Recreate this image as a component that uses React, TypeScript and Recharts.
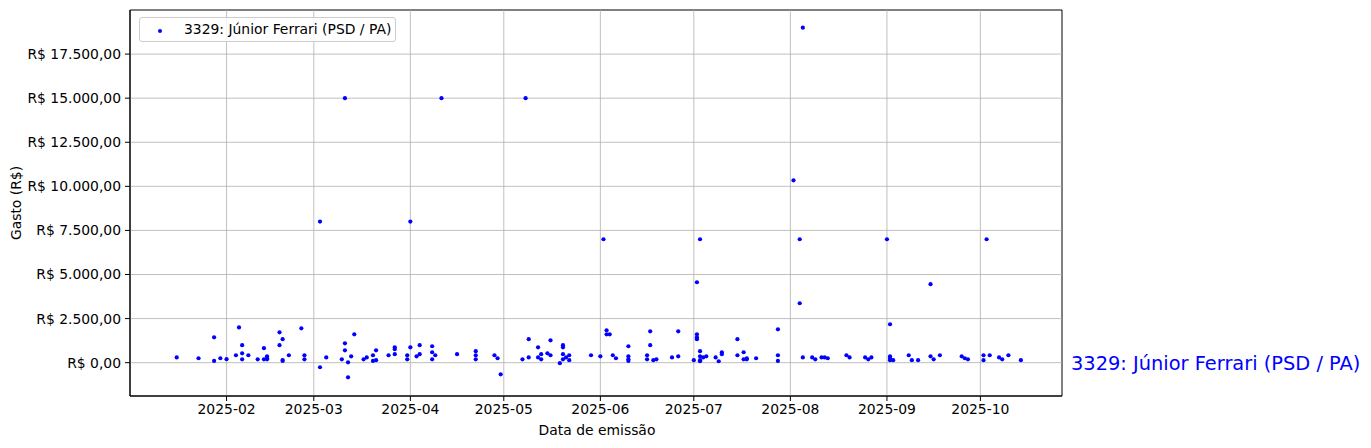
import { ScatterChart, Scatter, XAxis, YAxis, ReferenceLine, ReferenceArea } from 'recharts'

const SERIES_NAME = '3329: Júnior Ferrari (PSD / PA)'

const DATES = [
  '2025-01-16', '2025-01-23', '2025-01-28', '2025-01-28', '2025-01-30', '2025-02-01', '2025-02-04', '2025-02-05',
  '2025-02-06', '2025-02-06', '2025-02-06', '2025-02-08', '2025-02-11', '2025-02-13', '2025-02-13', '2025-02-14',
  '2025-02-14', '2025-02-14', '2025-02-18', '2025-02-18', '2025-02-19', '2025-02-19', '2025-02-19', '2025-02-21',
  '2025-02-25', '2025-02-26', '2025-02-26', '2025-03-03', '2025-03-03', '2025-03-05', '2025-03-10', '2025-03-11',
  '2025-03-11', '2025-03-11', '2025-03-12', '2025-03-12', '2025-03-13', '2025-03-14', '2025-03-17', '2025-03-18',
  '2025-03-20', '2025-03-20', '2025-03-21', '2025-03-21', '2025-03-25', '2025-03-27', '2025-03-27', '2025-03-27',
  '2025-03-31', '2025-03-31', '2025-04-01', '2025-04-01', '2025-04-03', '2025-04-04', '2025-04-04', '2025-04-08',
  '2025-04-08', '2025-04-09', '2025-04-08', '2025-04-11', '2025-04-16', '2025-04-22', '2025-04-22', '2025-04-22',
  '2025-04-28', '2025-04-29', '2025-04-30', '2025-05-07', '2025-05-08', '2025-05-09', '2025-05-09', '2025-05-12',
  '2025-05-12', '2025-05-13', '2025-05-13', '2025-05-15', '2025-05-16', '2025-05-16', '2025-05-19', '2025-05-20',
  '2025-05-20', '2025-05-20', '2025-05-20', '2025-05-21', '2025-05-22', '2025-05-22', '2025-05-29', '2025-06-01',
  '2025-06-02', '2025-06-03', '2025-06-03', '2025-06-04', '2025-06-05', '2025-06-06', '2025-06-10', '2025-06-10',
  '2025-06-10', '2025-06-10', '2025-06-16', '2025-06-16', '2025-06-17', '2025-06-17', '2025-06-18', '2025-06-19',
  '2025-06-24', '2025-06-26', '2025-06-26', '2025-07-01', '2025-07-02', '2025-07-02', '2025-07-02', '2025-07-02',
  '2025-07-03', '2025-07-03', '2025-07-03', '2025-07-03', '2025-07-03', '2025-07-04', '2025-07-05', '2025-07-08',
  '2025-07-09', '2025-07-10', '2025-07-10', '2025-07-15', '2025-07-15', '2025-07-17', '2025-07-17', '2025-07-18',
  '2025-07-18', '2025-07-21', '2025-07-28', '2025-07-28', '2025-07-28', '2025-08-02', '2025-08-04', '2025-08-04',
  '2025-08-05', '2025-08-05', '2025-08-08', '2025-08-09', '2025-08-11', '2025-08-12', '2025-08-13', '2025-08-19',
  '2025-08-20', '2025-08-25', '2025-08-26', '2025-08-27', '2025-09-01', '2025-09-02', '2025-09-02', '2025-09-02',
  '2025-09-02', '2025-09-03', '2025-09-08', '2025-09-09', '2025-09-11', '2025-09-15', '2025-09-15', '2025-09-16',
  '2025-09-18', '2025-09-25', '2025-09-26', '2025-09-27', '2025-10-02', '2025-10-02', '2025-10-03', '2025-10-04',
  '2025-10-07', '2025-10-08', '2025-10-10', '2025-10-14',
]

const VALUES = [
  300, 250, 1440, 100, 250, 200, 420, 2000,
  190, 990, 530, 420, 190, 820, 190, 190,
  360, 250, 1720, 990, 1330, 100, 150, 420,
  1950, 420, 190, 8000, -260, 300, 190, 1100,
  700, 15000, 20, -830, 360, 1610, 190, 300,
  100, 420, 700, 140, 420, 870, 760, 480,
  420, 190, 870, 8000, 360, 480, 990, 930,
  590, 420, 190, 15000, 480, 420, 190, 650,
  420, 250, -660, 190, 15000, 300, 1330, 300,
  870, 190, 480, 530, 420, 1270, -30, 190,
  990, 870, 480, 300, 420, 140, 420, 360,
  7000, 1840, 1610, 1610, 420, 250, 360, 190,
  100, 930, 420, 190, 1780, 990, 140, 190,
  300, 1780, 360, 140, 4560, 1610, 1440, 1330,
  7000, 360, 140, 80, 650, 300, 360, 300,
  80, 480, 590, 420, 1330, 190, 590, 250,
  190, 250, 1890, 420, 100, 10340, 7000, 3370,
  19000, 300, 300, 190, 300, 300, 250, 420,
  300, 300, 190, 300, 7000, 2180, 360, 250,
  140, 140, 420, 140, 140, 4450, 360, 190,
  420, 360, 250, 190, 420, 140, 7000, 420,
  300, 190, 420, 140,
]

const MONTH_TICKS = [
  '2025-02-01', '2025-03-01', '2025-04-01', '2025-05-01', '2025-06-01',
  '2025-07-01', '2025-08-01', '2025-09-01', '2025-10-01',
]

const Y_TICKS = [0, 2500, 5000, 7500, 10000, 12500, 15000, 17500]

const DAY = 86400000
const toTime = (s: string) => Date.parse(s + 'T00:00:00Z')
const X_MIN = toTime('2025-02-01') - 31.0 * DAY
const X_MAX = toTime('2025-02-01') + 268.2 * DAY
const Y_MIN = -1890
const Y_MAX = 20000

const points = DATES.map((d, i) => ({ x: toTime(d), y: VALUES[i] }))
const xTicks = MONTH_TICKS.map(toTime)

const FONT = 'DejaVu Sans'
const BLUE = '#0000ff'
const GRID = '#b0b0b0'

function brl(v: number) {
  const [intPart, dec] = Math.abs(v).toFixed(2).split('.')
  const grouped = intPart.replace(/\B(?=(\d{3})+(?!\d))/g, '.')
  return `R$ ${v < 0 ? '-' : ''}${grouped},${dec}`
}

const monthLabel = (t: number) => new Date(t).toISOString().slice(0, 7)

const Dot = (props: any) => <circle cx={props.cx} cy={props.cy} r={2.1} fill={BLUE} />

export default function App() {
  return (
    <div style={{ position: 'absolute', left: 0, top: 0, width: 1371, height: 448, background: '#fff', fontFamily: FONT }}>
      <ScatterChart width={1371} height={448} margin={{ top: 10, right: 309, bottom: 0, left: 0 }}>
        <XAxis
          type="number"
          dataKey="x"
          domain={[X_MIN, X_MAX]}
          ticks={xTicks}
          tickFormatter={monthLabel}
          allowDataOverflow
          height={52}
          tickSize={5}
          tickMargin={3}
          axisLine={{ stroke: '#000' }}
          tickLine={{ stroke: '#000' }}
          tick={{ fill: '#000', fontSize: 13.9, fontFamily: FONT }}
        />
        <YAxis
          type="number"
          dataKey="y"
          domain={[Y_MIN, Y_MAX]}
          ticks={Y_TICKS}
          tickFormatter={brl}
          allowDataOverflow
          width={130}
          tickSize={5}
          tickMargin={4}
          axisLine={{ stroke: '#000' }}
          tickLine={{ stroke: '#000' }}
          tick={{ fill: '#000', fontSize: 13.9, fontFamily: FONT }}
        />
        <Scatter name={SERIES_NAME} data={points} shape={Dot} isAnimationActive={false} />
        {xTicks.map((t) => (
          <ReferenceLine key={`gx-${t}`} x={t} stroke={GRID} strokeWidth={0.8} />
        ))}
        {Y_TICKS.map((v) => (
          <ReferenceLine key={`gy-${v}`} y={v} stroke={GRID} strokeWidth={0.8} />
        ))}
        <ReferenceArea x1={X_MIN} x2={X_MAX} y1={Y_MIN} y2={Y_MAX} fill="none" stroke="#000" strokeWidth={1} />
      </ScatterChart>

      <div
        style={{
          position: 'absolute', left: 139, top: 17, width: 257, height: 25, boxSizing: 'border-box',
          border: '1px solid #cccccc', borderRadius: 3, background: 'rgba(255,255,255,0.8)',
          fontSize: 13.9, color: '#000', lineHeight: '23px', whiteSpace: 'nowrap',
        }}
      >
        <span style={{ position: 'absolute', left: 18, top: 11, width: 4, height: 4, borderRadius: 2, background: BLUE }} />
        <span style={{ position: 'absolute', left: 44, top: 0 }}>{SERIES_NAME}</span>
      </div>

      <div style={{ position: 'absolute', left: 16, top: 203, transform: 'translate(-50%, -50%) rotate(-90deg)', fontSize: 13.9, whiteSpace: 'nowrap' }}>
        Gasto (R$)
      </div>
      <div style={{ position: 'absolute', left: 597, top: 430, transform: 'translate(-50%, -50%)', fontSize: 13.9, whiteSpace: 'nowrap' }}>
        Data de emissão
      </div>
      <div style={{ position: 'absolute', left: 1071, top: 363, transform: 'translateY(-50%)', fontSize: 19.4, color: BLUE, whiteSpace: 'nowrap' }}>
        {SERIES_NAME}
      </div>
    </div>
  )
}
